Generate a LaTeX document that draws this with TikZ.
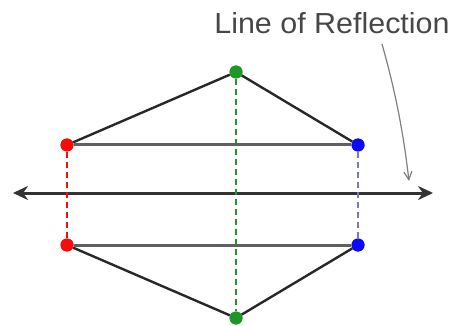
\documentclass[tikz,border=0pt]{standalone}
\usepackage{fontspec}
\setmainfont{Liberation Sans}
\usetikzlibrary{arrows.meta}
\definecolor{dotred}{RGB}{250,10,10}
\definecolor{dotblue}{RGB}{10,10,250}
\definecolor{dotgreen}{RGB}{30,150,40}
\definecolor{edgegray}{RGB}{40,40,40}
\definecolor{bluedash}{RGB}{120,120,190}
\begin{document}
\begin{tikzpicture}[x=1pt,y=-1pt,
  dotnode/.style={circle,inner sep=0pt,minimum size=13pt,fill=#1},
  edge/.style={draw=edgegray,line width=2.4pt},
  pairline/.style={draw=gray!75!black,line width=3pt},
  dashconn/.style={draw=#1,line width=1.8pt,dash pattern=on 6pt off 4pt},
  lbl/.style={text=black!72,font=\fontsize{29}{30}\selectfont,inner sep=0pt}]
\useasboundingbox (0,0) rectangle (455,326);
\coordinate (axL) at (13,193);
\coordinate (axR) at (433,193);
\draw[line width=3pt,draw=black!80,{Stealth[length=15pt,width=14pt]}-{Stealth[length=15pt,width=14pt]}] (axL) -- (axR);
\node[dotnode=dotgreen] (gt) at (236,72) {};
\node[dotnode=dotred] (rt) at (67,145) {};
\node[dotnode=dotblue] (bt) at (358,145) {};
\node[dotnode=dotred] (rb) at (67,245) {};
\node[dotnode=dotblue] (bb) at (358,245) {};
\node[dotnode=dotgreen] (gb) at (236,318) {};
\draw[dashconn=dotgreen] (gt) -- (gb);
\draw[dashconn=dotred] (rt) -- (rb);
\draw[dashconn=bluedash] (bt) -- (bb);
\draw[edge] (rt) -- (gt);
\draw[edge] (gt) -- (bt);
\draw[edge] (rb) -- (gb);
\draw[edge] (gb) -- (bb);
\draw[pairline] (rt) -- (bt);
\draw[pairline] (rb) -- (bb);
\node[dotnode=dotgreen] at (gt) {};
\node[dotnode=dotred] at (rt) {};
\node[dotnode=dotblue] at (bt) {};
\node[dotnode=dotred] at (rb) {};
\node[dotnode=dotblue] at (bb) {};
\node[dotnode=dotgreen] at (gb) {};
\node[lbl,xscale=1.05] (title) at (332,23) {Line of Reflection};
\coordinate (pt) at (409,181);
\draw[draw=gray,line width=1.2pt,-{Straight Barb[length=8pt,width=8pt]}] (382,44) .. controls (395,90) and (403,130) .. (pt);
\end{tikzpicture}
\end{document}
